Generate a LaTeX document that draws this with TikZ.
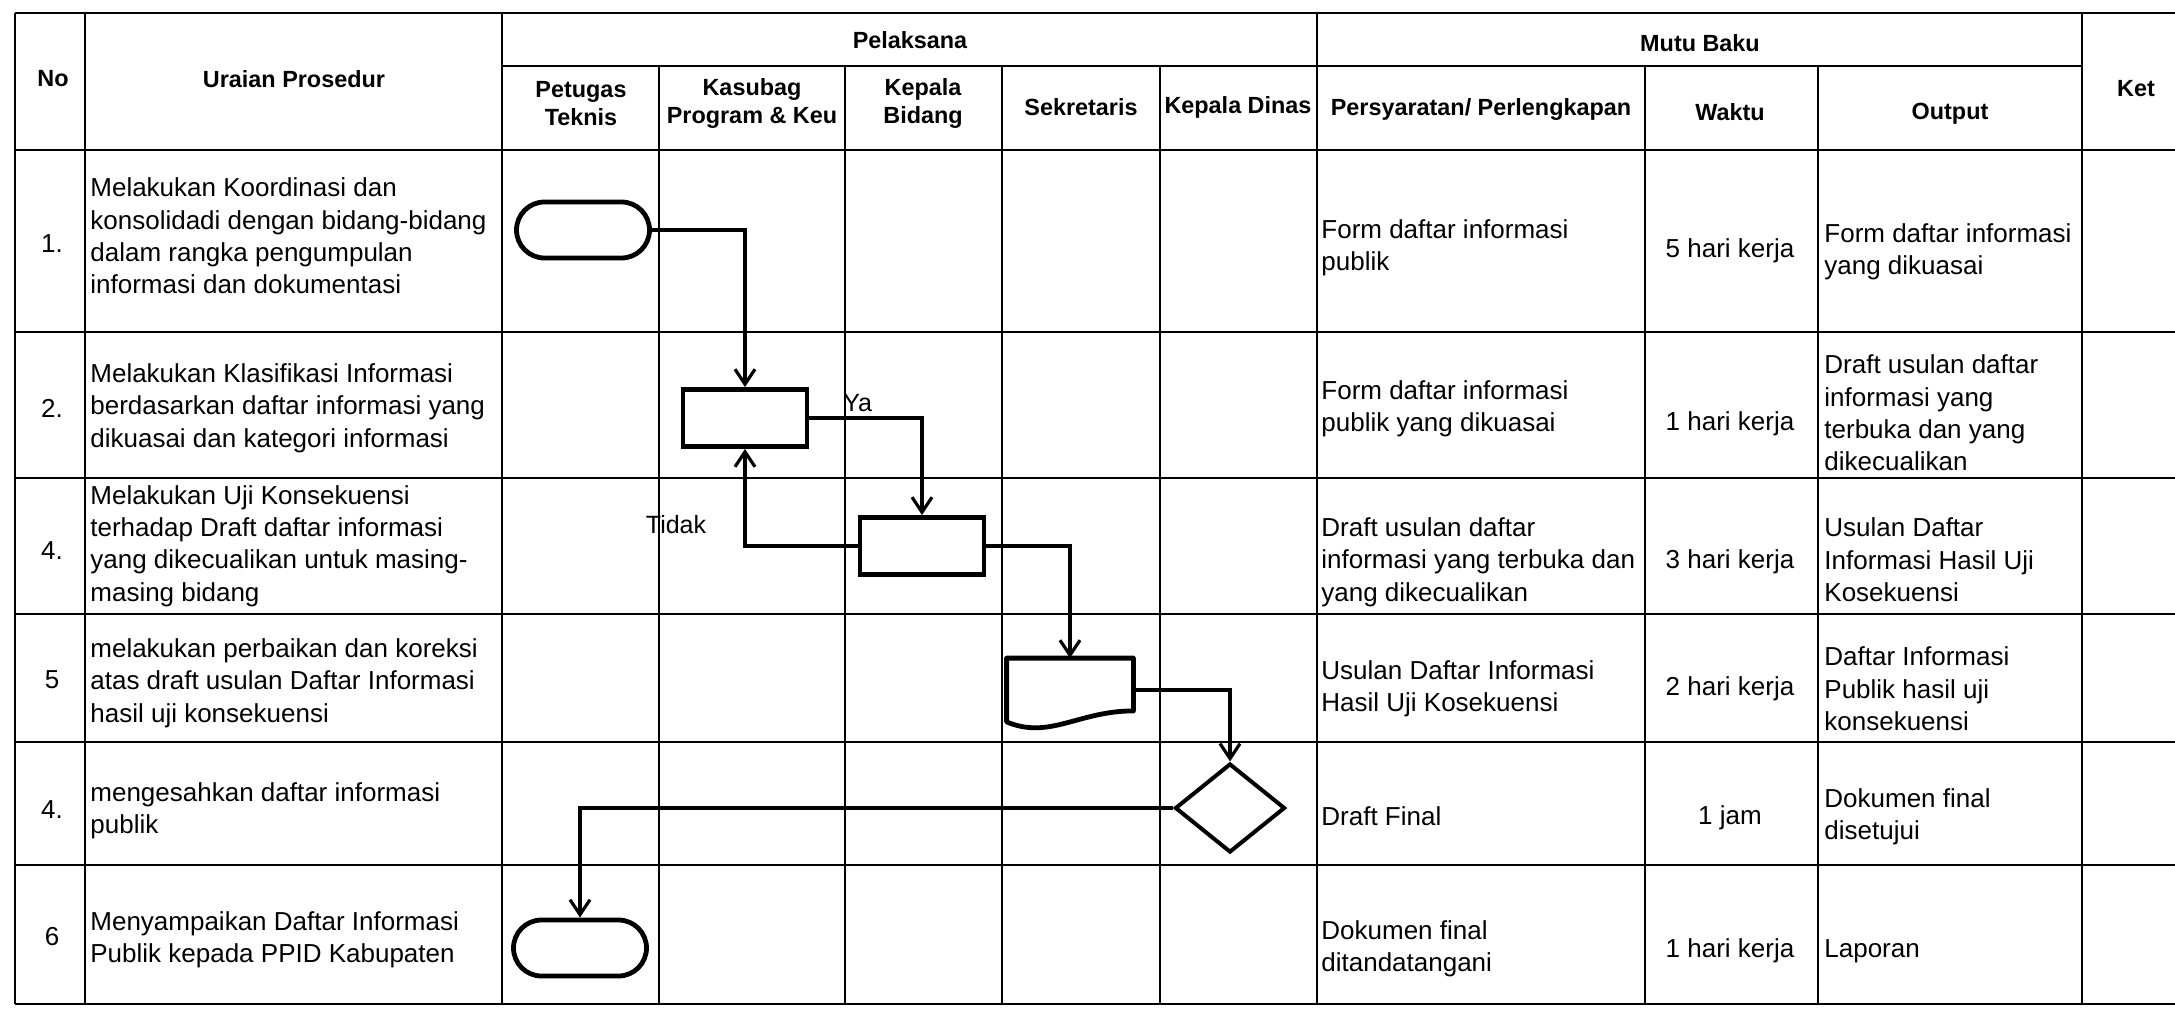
\documentclass[tikz,border=0pt]{standalone}
\usepackage{fontspec}
\setmainfont{Liberation Sans}
\usetikzlibrary{shapes.geometric,shapes.misc,arrows.meta,calc}
\begin{document}
\begin{tikzpicture}[x=0.5pt,y=-0.5pt,
  gridline/.style={line width=1.1pt},
  hdr/.style={font=\fontsize{11.7}{14}\selectfont\bfseries, align=center, inner sep=0},
  body/.style={font=\fontsize{13}{16.2}\selectfont, align=left, anchor=west, inner sep=0},
  ctr/.style={font=\fontsize{13}{16.2}\selectfont, inner sep=0},
  term/.style={rounded rectangle, draw, fill=white, line width=2.4pt, minimum width=66.5pt, minimum height=28pt, inner sep=0},
  proc/.style={rectangle, draw, fill=white, line width=2.4pt, minimum width=62pt, minimum height=28.5pt, inner sep=0},
  dec/.style={diamond, draw, fill=white, line width=2pt, minimum width=55pt, minimum height=44.5pt, inner sep=0},
  docbox/.style={rectangle, draw=none, minimum width=63pt, minimum height=31.5pt, inner sep=0},
  flow/.style={line width=1.7pt, -{Straight Barb[length=7.5pt,width=10pt,line width=1.6pt]}},
  lbl/.style={font=\fontsize{12.5}{15}\selectfont, inner sep=0}]
\useasboundingbox (0,0) rectangle (2175,1012);

% ---------- table grid ----------
\draw[gridline] (15,13) -- (2175,13);
\draw[gridline] (502,66) -- (2082,66);
\draw[gridline] (15,150) -- (2175,150);
\foreach \yy in {332,478,614,742,865,1004}
  \draw[gridline] (15,\yy) -- (2175,\yy);
\foreach \xx in {15,85,502,1317,2082}
  \draw[gridline] (\xx,13) -- (\xx,1004);
\foreach \xx in {659,845,1002,1160,1645,1818}
  \draw[gridline] (\xx,66) -- (\xx,1004);

% ---------- headers ----------
\node[hdr] (hNo) at (53,79) {No};
\node[hdr] (hUr) at (294,79) {Uraian Prosedur};
\node[hdr] (hPel) at (910,40) {Pelaksana};
\node[hdr] (hMutu) at (1700,43) {Mutu Baku};
\node[hdr] (hKet) at (2136,89) {Ket};
\node[hdr] (hPet) at (581,104) {Petugas\\Teknis};
\node[hdr] (hKas) at (752,104) {Kasubag\\Program \& Keu};
\node[hdr] (hKep) at (923,104) {Kepala\\Bidang};
\node[hdr] (hSek) at (1081,107) {Sekretaris};
\node[hdr] (hDin) at (1238,107) {Kepala Dinas};
\node[hdr] (hPer) at (1481,110) {Persyaratan/ Perlengkapan};
\node[hdr] (hWak) at (1730,112) {Waktu};
\node[hdr] (hOut) at (1950,114) {Output};

% ---------- numbers ----------
\node[ctr] (n1) at (52,244) {1.};
\node[ctr] (n2) at (52,408) {2.};
\node[ctr] (n3) at (52,551) {4.};
\node[ctr] (n4) at (52,680) {5};
\node[ctr] (n5) at (52,810) {4.};
\node[ctr] (n6) at (52,937) {6};

% ---------- uraian ----------
\node[body] (u1) at (90,236) {Melakukan Koordinasi dan\\konsolidadi dengan bidang-bidang\\dalam rangka pengumpulan\\informasi dan dokumentasi};
\node[body] (u2) at (90,408) {Melakukan Klasifikasi Informasi\\berdasarkan daftar informasi yang\\dikuasai dan kategori informasi};
\node[body] (u3) at (90,546) {Melakukan Uji Konsekuensi\\terhadap Draft daftar informasi\\yang dikecualikan untuk masing-\\masing bidang};
\node[body] (u4) at (90,683) {melakukan perbaikan dan koreksi\\atas draft usulan Daftar Informasi\\hasil uji konsekuensi};
\node[body] (u5) at (90,811) {mengesahkan daftar informasi\\publik};
\node[body] (u6) at (90,940) {Menyampaikan Daftar Informasi\\Publik kepada PPID Kabupaten};

% ---------- persyaratan ----------
\node[body] (p1) at (1321,248) {Form daftar informasi\\publik};
\node[body] (p2) at (1321,409) {Form daftar informasi\\publik yang dikuasai};
\node[body] (p3) at (1321,562) {Draft usulan daftar\\informasi yang terbuka dan\\yang dikecualikan};
\node[body] (p4) at (1321,689) {Usulan Daftar Informasi\\Hasil Uji Kosekuensi};
\node[body] (p5) at (1321,816) {Draft Final};
\node[body] (p6) at (1321,949) {Dokumen final\\ditandatangani};

% ---------- waktu ----------
\node[ctr] (w1) at (1730,251) {5 hari kerja};
\node[ctr] (w2) at (1730,424) {1 hari kerja};
\node[ctr] (w3) at (1730,562) {3 hari kerja};
\node[ctr] (w4) at (1730,689) {2 hari kerja};
\node[ctr] (w5) at (1730,818) {1 jam};
\node[ctr] (w6) at (1730,951) {1 hari kerja};

% ---------- output ----------
\node[body] (o1) at (1824,252) {Form daftar informasi\\yang dikuasai};
\node[body] (o2) at (1824,413) {Draft usulan daftar\\informasi yang\\terbuka dan yang\\dikecualikan};
\node[body] (o3) at (1824,560) {Usulan Daftar\\Informasi Hasil Uji\\Kosekuensi};
\node[body] (o4) at (1824,689) {Daftar Informasi\\Publik hasil uji\\konsekuensi};
\node[body] (o5) at (1824,817) {Dokumen final\\disetujui};
\node[body] (o6) at (1824,951) {Laporan};

% ---------- flow shapes ----------
\node[term] (t1) at (583,230) {};
\node[proc] (r1) at (745,418) {};
\node[proc] (r2) at (922,546) {};
\node[docbox] (doc) at (1070,690) {};
\draw[line width=2.4pt, fill=white, line join=round]
  (doc.north west) -- (doc.north east) -- ($(doc.south east)+(0,-11)$)
  .. controls ($(doc.south east)+(-55,-11)$) and ($(doc.south west)+(43,18)$) .. (doc.south west) -- cycle;
\node[dec] (dia) at (1230,808) {};
\node[term] (t2) at (580,948) {};

% ---------- connectors ----------
\draw[flow] (t1.east) -| (r1.north);
\draw[flow] (r1.east) -| (r2.north);
\draw[flow] (r2.west) -| (r1.south);
\draw[flow] (r2.east) -| (doc.north);
\draw[flow] (doc.east) -| (dia.north);
\draw[flow] (dia.west) -| (t2.north);

\node[lbl, anchor=west] (ya) at (843,403) {Ya};
\node[lbl] (tidak) at (676,525) {Tidak};
\end{tikzpicture}
\end{document}
